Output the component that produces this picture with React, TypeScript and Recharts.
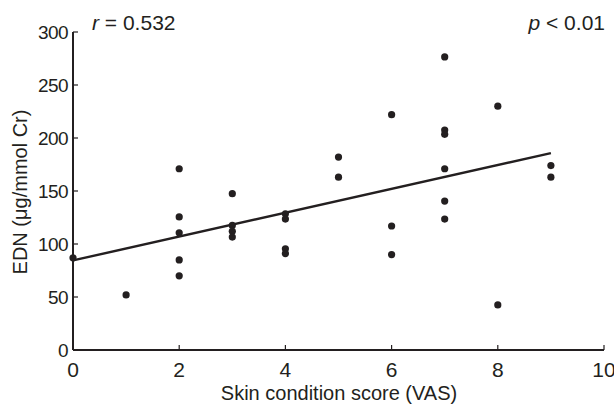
import { ReferenceLine, Scatter, ScatterChart, XAxis, YAxis } from 'recharts';

// VAS score per subject
const vasScores = [0, 1, 2, 2, 2, 2, 2, 3, 3, 3, 3, 4, 4, 4, 4, 5, 5, 6, 6, 6, 7, 7, 7, 7, 7, 7, 8, 8, 9, 9];
// urinary EDN, µg/mmol Cr
const ednValues = [
  87, 52, 171, 125.5, 110.5, 85, 70, 147.5, 117.5, 112, 106.5, 128.5, 123.5, 95.5, 91, 182, 163, 222, 117, 90,
  276.5, 207.5, 203.5, 171, 140.5, 123.5, 230, 42.5, 174, 163,
];
const xTicks = [0, 2, 4, 6, 8, 10];
const yTicks = [0, 50, 100, 150, 200, 250, 300];
// fitted regression line end points (x, EDN)
const fitX = [0, 9];
const fitY = [84.5, 185.7];

const INK = '#231f20';
const FONT = '"Liberation Sans", Arial, sans-serif';

const points = vasScores.map((x, i) => ({ x, y: ednValues[i] }));

function XTick(props: any) {
  const { x, y, payload } = props;
  return (
    <g>
      <line x1={x} x2={x} y1={y} y2={y - 5} stroke={INK} strokeWidth={1.2} />
      <text x={x} y={y + 27} textAnchor="middle" fontSize={21} fill={INK} fontFamily={FONT}>
        {payload.value}
      </text>
    </g>
  );
}

function YTick(props: any) {
  const { x, y, payload } = props;
  return (
    <g>
      <line x1={x} x2={x + 5} y1={y} y2={y} stroke={INK} strokeWidth={1.2} />
      <text x={x - 5} y={y + 7} textAnchor="end" fontSize={19} fill={INK} fontFamily={FONT} letterSpacing={-0.6}>
        {payload.value}
      </text>
    </g>
  );
}

export default function App() {
  return (
    <div style={{ position: 'absolute', left: 0, top: 0, width: 614, height: 404, background: '#fff' }}>
      <ScatterChart width={614} height={404} margin={{ top: 32, right: 10, bottom: 0, left: 0 }}>
        <XAxis
          type="number"
          dataKey="x"
          domain={[0, 10]}
          ticks={xTicks}
          height={54}
          tickLine={false}
          tickSize={0}
          tickMargin={0}
          tick={<XTick />}
          axisLine={{ stroke: INK, strokeWidth: 2 }}
        />
        <YAxis
          type="number"
          dataKey="y"
          domain={[0, 300]}
          ticks={yTicks}
          width={73}
          tickLine={false}
          tickSize={0}
          tickMargin={0}
          tick={<YTick />}
          axisLine={{ stroke: INK, strokeWidth: 2 }}
        />
        <ReferenceLine
          segment={[
            { x: fitX[0], y: fitY[0] },
            { x: fitX[1], y: fitY[1] },
          ]}
          stroke={INK}
          strokeWidth={2.4}
          ifOverflow="visible"
        />
        <Scatter data={points} fill={INK} shape={(p: any) => <circle cx={p.cx} cy={p.cy} r={3.6} fill={INK} />} isAnimationActive={false} />
      </ScatterChart>
      <svg width={614} height={404} style={{ position: 'absolute', left: 0, top: 0, pointerEvents: 'none' }}>
        <text
          transform="translate(27 192) rotate(-90)"
          textAnchor="middle"
          fontSize={20}
          fill={INK}
          fontFamily={FONT}
        >
          EDN (μg/mmol Cr)
        </text>
        <text x={339} y={400} textAnchor="middle" fontSize={20} fill={INK} fontFamily={FONT}>
          Skin condition score (VAS)
        </text>
        <text x={92} y={30} fontSize={21} fill={INK} fontFamily={FONT}>
          <tspan fontStyle="italic">r</tspan> = 0.532
        </text>
        <text x={605} y={30} textAnchor="end" fontSize={21} fill={INK} fontFamily={FONT}>
          <tspan fontStyle="italic">p</tspan> {'<'} 0.01
        </text>
      </svg>
    </div>
  );
}
